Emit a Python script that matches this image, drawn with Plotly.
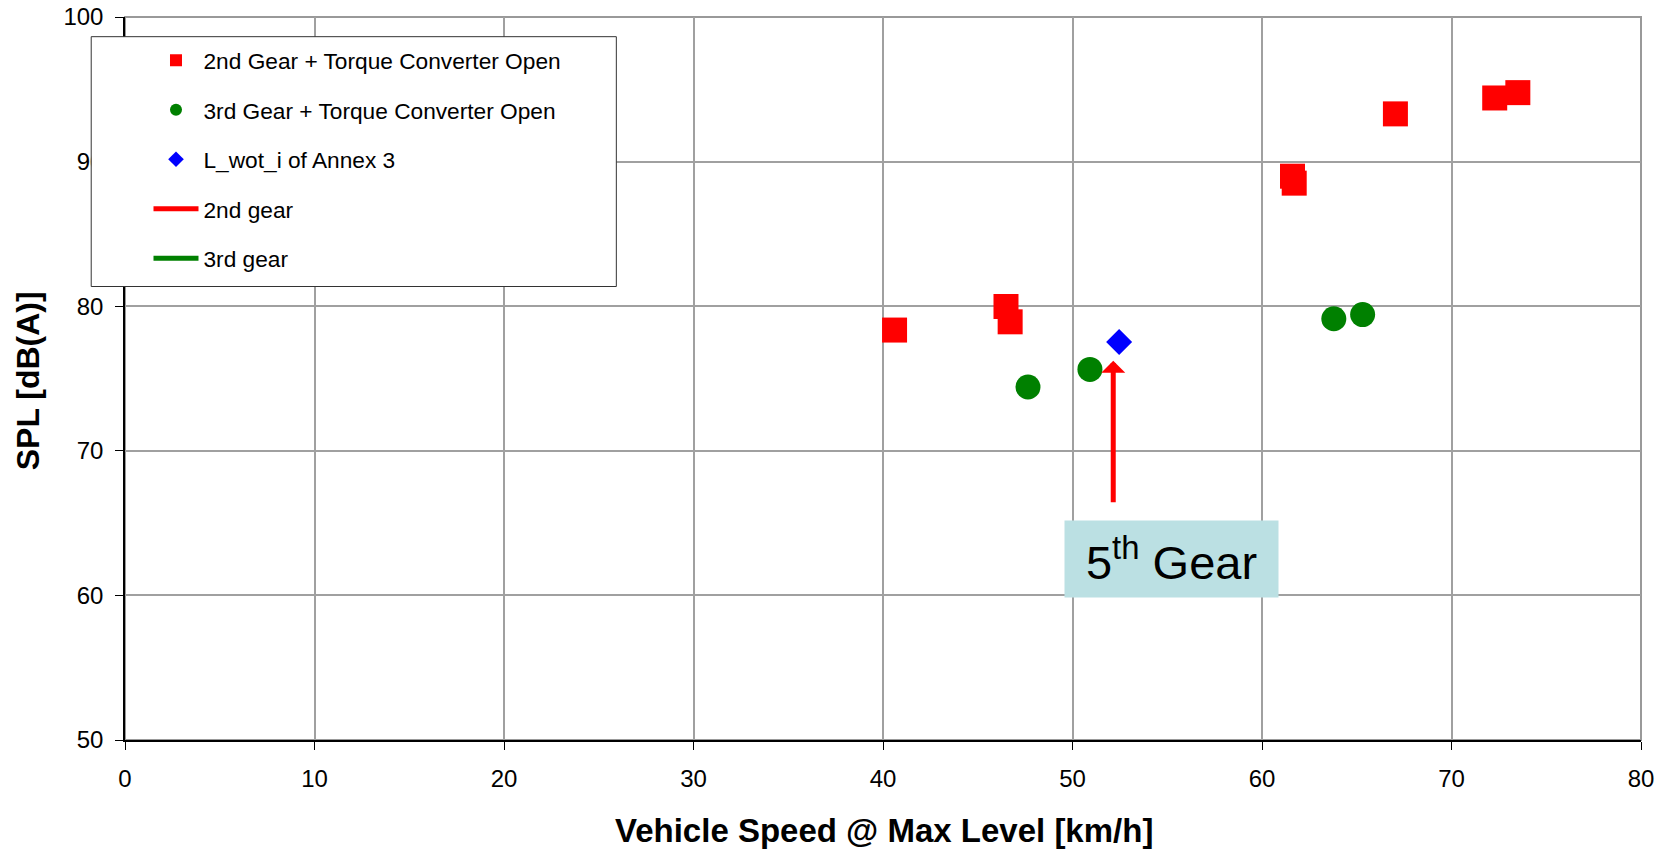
import plotly.graph_objects as go

# ---- data ----
gear2_speed = [40.61, 46.49, 46.71, 61.61, 61.70, 67.04, 72.28, 73.50]
gear2_spl = [78.35, 79.98, 78.92, 88.99, 88.51, 93.30, 94.40, 94.77]

gear3_speed = [47.65, 50.92, 63.79, 65.31]
gear3_spl = [74.41, 75.63, 79.13, 79.42]

lwot_speed = [52.46]
lwot_spl = [77.52]

arrow_x = 52.15
arrow_tip_y = 76.23
arrow_tail_y = 66.34
label_x = 55.23
label_y = 62.54
label_text = "5<sup>th</sup> Gear"

x_ticks = [0, 10, 20, 30, 40, 50, 60, 70, 80]
y_ticks = [50, 60, 70, 80, 90, 100]

FONT = "Arial, Liberation Sans, sans-serif"

fig = go.Figure()
fig.add_trace(go.Scatter(x=gear2_speed, y=gear2_spl, mode="markers",
                         name="2nd Gear + Torque Converter Open", legendgroup="a",
                         marker=dict(symbol="square", size=25, color="#FF0000")))
fig.add_trace(go.Scatter(x=gear3_speed, y=gear3_spl, mode="markers",
                         name="3rd Gear + Torque Converter Open", legendgroup="b",
                         marker=dict(symbol="circle", size=25, color="#008000")))
fig.add_trace(go.Scatter(x=lwot_speed, y=lwot_spl, mode="markers",
                         name="L_wot_i of Annex 3", legendgroup="c",
                         marker=dict(symbol="diamond", size=20, color="#0000FF")))
fig.add_trace(go.Scatter(x=[None], y=[None], mode="lines", name="2nd gear", legendgroup="d",
                         line=dict(color="#FF0000", width=4)))
fig.add_trace(go.Scatter(x=[None], y=[None], mode="lines", name="3rd gear", legendgroup="e",
                         line=dict(color="#008000", width=4)))

OFF = 8  # page body margin
FIG_W, FIG_H = 1673 - OFF, 849 - OFF
# plot area in screenshot pixels
L, R, T, B = 124.5, 1641, 17, 740.5
W, H = R - L, B - T


def px_x(p):
    return (p - L) / W


def px_y(p):
    return (B - p) / H


fig.update_layout(
    template="none",
    width=FIG_W, height=FIG_H,
    margin=dict(l=L - OFF, r=FIG_W - (R - OFF), t=T - OFF, b=FIG_H - (B - OFF), pad=0, autoexpand=False),
    paper_bgcolor="white", plot_bgcolor="white",
    font=dict(family=FONT, color="black"),
    showlegend=True,
    legend=dict(x=px_x(148), y=px_y(39), xanchor="left", yanchor="top",
                bgcolor="rgba(0,0,0,0)", borderwidth=0,
                font=dict(size=22.7, family=FONT, color="black"),
                itemsizing="constant", itemwidth=45, tracegroupgap=17,
                traceorder="grouped"),
    xaxis=dict(range=[0, 80], tickvals=x_ticks, showgrid=True, gridcolor="#a0a0a0", gridwidth=1.5,
               showline=True, linecolor="black", linewidth=1.5, ticks="outside", ticklen=8,
               tickcolor="black", tickwidth=1, tickfont=dict(size=24, family=FONT),
               ticklabelstandoff=8, ticklabeloverflow="allow",
               zeroline=False, fixedrange=True, automargin=False),
    yaxis=dict(range=[50, 100], tickvals=y_ticks, showgrid=True, gridcolor="#a0a0a0", gridwidth=1.5,
               showline=True, linecolor="black", linewidth=1.5, ticks="outside", ticklen=8,
               tickcolor="black", tickwidth=1, tickfont=dict(size=24, family=FONT),
               ticklabelstandoff=7, ticklabeloverflow="allow",
               zeroline=False, fixedrange=True, automargin=False),
)

# gray frame on top / right
fig.add_shape(type="rect", xref="paper", yref="paper", x0=0, x1=1, y0=0, y1=1,
              line=dict(color="#999999", width=2), fillcolor="rgba(0,0,0,0)", layer="below")

# legend box
fig.add_shape(type="rect", xref="paper", yref="paper",
              x0=px_x(90.7), x1=px_x(616), y0=px_y(286.7), y1=px_y(36.7),
              line=dict(color="#333333", width=1), fillcolor="white", layer="above")

# arrow
fig.add_annotation(x=arrow_x, y=arrow_tip_y, ax=arrow_x, ay=arrow_tail_y,
                   xref="x", yref="y", axref="x", ayref="y", text="",
                   showarrow=True, arrowhead=1, arrowsize=0.8, arrowwidth=5, arrowcolor="#FF0000")

# label box
fig.add_annotation(x=label_x, y=label_y, xref="x", yref="y", text=label_text, showarrow=False,
                   font=dict(size=47, family=FONT, color="black"),
                   bgcolor="#BBE0E3", width=213, height=76, borderpad=0,
                   align="center", valign="middle")

# axis titles
fig.add_annotation(x=px_x(884), y=px_y(831), xref="paper", yref="paper",
                   text="<b>Vehicle Speed @ Max Level [km/h]</b>", showarrow=False,
                   font=dict(size=33, family=FONT, color="black"), xanchor="center", yanchor="middle")
fig.add_annotation(x=px_x(27), y=px_y(381), xref="paper", yref="paper",
                   text="<b>SPL [dB(A)]</b>", showarrow=False, textangle=-90,
                   font=dict(size=32, family=FONT, color="black"), xanchor="center", yanchor="middle")

fig.write_html("out.html")
